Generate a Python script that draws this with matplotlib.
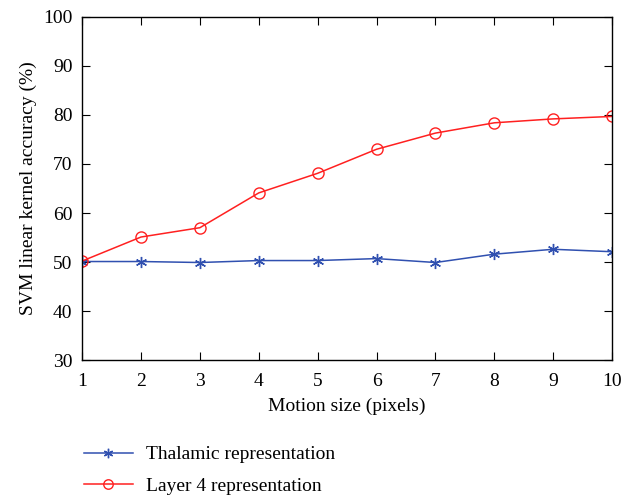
import matplotlib
matplotlib.use('Agg')
import matplotlib.pyplot as plt

# --- data ---
motion_size = [1, 2, 3, 4, 5, 6, 7, 8, 9, 10]
thalamic = [50.1, 50.1, 49.9, 50.3, 50.3, 50.7, 49.9, 51.6, 52.6, 52.1]
layer4 = [50.2, 55.1, 57.0, 64.1, 68.1, 73.0, 76.3, 78.4, 79.2, 79.7]

plt.rcParams['font.family'] = ['Liberation Serif', 'DejaVu Serif']

fig = plt.figure(figsize=(6.22, 4.98), dpi=100)
ax = fig.add_axes([0.132, 0.277, 0.852, 0.689])

ax.plot(motion_size, thalamic, color='#3050b0', marker=(6, 2, 0), markersize=8,
        markeredgewidth=1.0, linewidth=1.1, label='Thalamic representation')
ax.plot(motion_size, layer4, color='#ff2020', marker='o', markersize=8,
        markerfacecolor='none', markeredgewidth=1.0, linewidth=1.1,
        label='Layer 4 representation')

ax.set_xlim(1, 10)
ax.set_ylim(30, 100)
ax.set_xticks(motion_size)
ax.set_yticks(range(30, 101, 10))
ax.tick_params(direction='in', top=True, right=True, length=6, labelsize=14)
ax.tick_params(axis='x', pad=9)
ax.tick_params(axis='y', pad=7)
for s in ax.spines.values():
    s.set_linewidth(1.0)

ax.set_xlabel('Motion size (pixels)', fontsize=14, labelpad=6)
ax.set_ylabel('SVM linear kernel accuracy (%)', fontsize=14)

fig.legend(loc='upper left', bbox_to_anchor=(0.107, 0.14), frameon=False,
           fontsize=14, handlelength=2.5, handletextpad=0.7, labelspacing=0.7,
           markerscale=0.85)

plt.savefig('out.png', dpi=100)
